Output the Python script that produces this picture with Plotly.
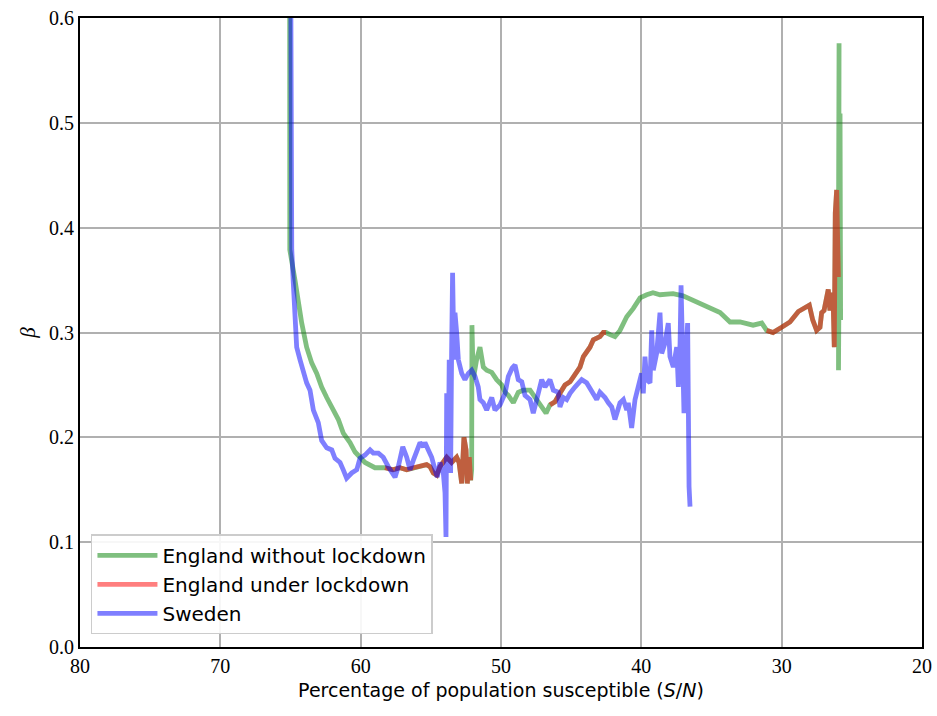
import plotly.graph_objects as go

# England: full series (x = % susceptible, y = beta); lockdown flag per point
eng_x = [65.07, 65.05, 64.68, 64.44, 64.20, 63.85, 63.49, 63.13, 62.78, 62.42, 61.95, 61.59,
         61.24, 60.76, 60.40, 60.05, 59.69, 58.98, 58.27, 57.70, 57.20, 56.72, 56.25, 55.77,
         55.30, 55.06, 54.82, 54.58, 54.35, 54.13, 53.87, 53.52, 53.16, 52.99, 52.80, 52.64,
         52.49, 52.40, 52.26, 52.16, 52.09, 52.07, 51.98, 51.74, 51.50, 51.26, 51.02, 50.66,
         50.31, 49.95, 49.71, 49.48, 49.12, 48.77, 48.41, 47.93, 47.58, 47.34, 47.10, 46.79,
         46.51, 46.15, 45.80, 45.44, 45.08, 44.73, 44.37, 44.13, 43.90, 43.66, 43.42, 43.18,
         42.95, 42.71, 42.52, 42.23, 41.88, 41.52, 41.04, 40.57, 40.09, 39.62, 39.17, 38.67,
         38.19, 37.74, 37.03, 36.32, 35.82, 35.11, 34.39, 33.68, 32.97, 32.04, 31.42, 31.07,
         30.62, 30.00, 29.41, 28.81, 28.33, 28.03, 27.79, 27.51, 27.27, 27.15, 26.98, 26.79,
         26.68, 26.56, 26.44, 26.32, 26.25, 26.18, 26.08, 25.96, 25.91, 25.95, 25.84, 25.80]
eng_y = [0.85, 0.379, 0.350, 0.328, 0.309, 0.286, 0.271, 0.261, 0.248, 0.238, 0.226, 0.217,
         0.204, 0.195, 0.186, 0.181, 0.176, 0.171, 0.171, 0.169, 0.171, 0.169, 0.171, 0.172,
         0.174, 0.172, 0.166, 0.164, 0.172, 0.176, 0.181, 0.176, 0.181, 0.176, 0.156, 0.200,
         0.188, 0.156, 0.181, 0.159, 0.169, 0.307, 0.255, 0.274, 0.286, 0.267, 0.264, 0.262,
         0.255, 0.250, 0.243, 0.240, 0.233, 0.243, 0.245, 0.245, 0.238, 0.233, 0.229, 0.223,
         0.231, 0.234, 0.242, 0.250, 0.253, 0.259, 0.267, 0.277, 0.281, 0.286, 0.293, 0.295,
         0.296, 0.300, 0.300, 0.298, 0.296, 0.302, 0.315, 0.323, 0.333, 0.336, 0.338, 0.336,
         0.336, 0.337, 0.335, 0.331, 0.328, 0.324, 0.319, 0.310, 0.310, 0.307, 0.309, 0.302,
         0.300, 0.305, 0.310, 0.320, 0.324, 0.326, 0.312, 0.302, 0.305, 0.319, 0.321, 0.331,
         0.341, 0.321, 0.338, 0.324, 0.286, 0.414, 0.436, 0.353, 0.576, 0.264, 0.509, 0.312]
eng_lockdown = [0] * 18 + [1] * 22 + [0] * 20 + [1] * 15 + [0] * 20 + [1] * 21 + [0] * 4

# Sweden
swe_x = [65.04, 65.00, 64.91, 64.80, 64.68, 64.56, 64.32, 64.09, 63.85, 63.61, 63.37, 63.02,
         62.78, 62.42, 62.06, 61.83, 61.47, 61.24, 61.00, 60.64, 60.28, 60.05, 59.69, 59.33,
         59.10, 58.74, 58.39, 58.03, 57.79, 57.55, 57.32, 57.00, 56.72, 56.48, 56.25, 56.01,
         55.77, 55.54, 55.42, 55.18, 54.94, 54.70, 54.54, 54.35, 54.11, 53.99, 53.92, 53.87,
         53.76, 53.69, 53.59, 53.52, 53.45, 53.35, 53.28, 53.16, 53.04, 52.80, 52.57, 52.33,
         52.09, 51.85, 51.62, 51.50, 51.26, 51.02, 50.66, 50.43, 50.07, 49.71, 49.48, 49.21,
         49.00, 48.77, 48.52, 48.29, 47.93, 47.70, 47.46, 47.10, 46.86, 46.51, 46.27, 45.92,
         45.80, 45.56, 45.32, 45.08, 44.73, 44.25, 43.90, 43.54, 43.18, 42.95, 42.59, 42.35,
         42.11, 41.88, 41.64, 41.52, 41.28, 41.04, 40.93, 40.69, 40.45, 40.33, 40.09, 39.98,
         39.86, 39.74, 39.62, 39.38, 39.26, 39.15, 38.91, 38.67, 38.55, 38.31, 38.08, 37.96,
         37.72, 37.48, 37.36, 37.24, 37.17, 37.05, 36.96, 36.82, 36.70, 36.60, 36.53]
swe_y = [0.85, 0.474, 0.379, 0.347, 0.315, 0.286, 0.274, 0.261, 0.252, 0.245, 0.226, 0.214,
         0.197, 0.190, 0.188, 0.180, 0.176, 0.169, 0.161, 0.166, 0.169, 0.180, 0.183, 0.188,
         0.185, 0.185, 0.181, 0.172, 0.166, 0.162, 0.172, 0.191, 0.181, 0.169, 0.178, 0.188,
         0.195, 0.191, 0.195, 0.188, 0.181, 0.169, 0.162, 0.176, 0.166, 0.147, 0.105, 0.242,
         0.172, 0.274, 0.166, 0.280, 0.357, 0.274, 0.319, 0.300, 0.274, 0.261, 0.255, 0.261,
         0.264, 0.258, 0.248, 0.236, 0.233, 0.226, 0.238, 0.226, 0.231, 0.242, 0.258, 0.266,
         0.269, 0.255, 0.253, 0.240, 0.236, 0.223, 0.236, 0.255, 0.248, 0.255, 0.245, 0.243,
         0.229, 0.238, 0.236, 0.242, 0.248, 0.255, 0.252, 0.243, 0.236, 0.243, 0.238, 0.233,
         0.229, 0.217, 0.229, 0.233, 0.236, 0.226, 0.233, 0.209, 0.236, 0.242, 0.255, 0.261,
         0.242, 0.277, 0.255, 0.252, 0.302, 0.264, 0.280, 0.319, 0.280, 0.290, 0.309, 0.277,
         0.267, 0.286, 0.248, 0.290, 0.345, 0.264, 0.223, 0.277, 0.309, 0.153, 0.134]

x_ticks = [80, 70, 60, 50, 40, 30, 20]
y_ticks = [0.0, 0.1, 0.2, 0.3, 0.4, 0.5, 0.6]

red_y = [y if f else None for y, f in zip(eng_y, eng_lockdown)]

LW = 4.8
fig = go.Figure()
fig.add_trace(go.Scatter(x=eng_x, y=eng_y, mode="lines", name="England without lockdown",
                         line=dict(color="rgba(0,128,0,0.5)", width=LW)))
fig.add_trace(go.Scatter(x=eng_x, y=red_y, mode="lines", name="England under lockdown",
                         connectgaps=False,
                         line=dict(color="rgba(255,0,0,0.5)", width=LW)))
fig.add_trace(go.Scatter(x=swe_x, y=swe_y, mode="lines", name="Sweden",
                         line=dict(color="rgba(0,0,255,0.5)", width=LW)))

axis_common = dict(showgrid=True, gridcolor="#b0b0b0", gridwidth=1.5,
                   showline=True, linecolor="black", linewidth=1.8, mirror=True,
                   ticks="", zeroline=False, automargin=False,
                   tickfont=dict(family="Liberation Serif, DejaVu Serif, serif", size=20, color="black"))

fig.update_layout(
    width=937, height=716,
    margin=dict(l=80, r=15, t=18, b=69),
    paper_bgcolor="white", plot_bgcolor="white",
    xaxis=dict(range=[80, 20], tickvals=x_ticks, ticktext=[str(v) for v in x_ticks],
               title=dict(text="Percentage of population susceptible (<i>S</i>/<i>N</i>)",
                          font=dict(family="DejaVu Sans, sans-serif", size=19, color="black"),
                          standoff=8),
               **axis_common),
    yaxis=dict(range=[0, 0.6], tickvals=y_ticks, ticktext=[f"{v:.1f}" for v in y_ticks],
               title=dict(text="<i>β</i>",
                          font=dict(family="Liberation Serif, DejaVu Serif, serif", size=21, color="black"),
                          standoff=8),
               **axis_common),
    legend=dict(x=0.013, y=0.02, xanchor="left", yanchor="bottom",
                bgcolor="rgba(255,255,255,0.9)", bordercolor="#cccccc", borderwidth=1.5,
                font=dict(family="DejaVu Sans, sans-serif", size=20, color="black"),
                itemwidth=60, tracegroupgap=6),
    showlegend=True,
)

fig.write_html("out.html", config={"displayModeBar": False},
               post_script="document.body.style.margin='0';document.body.style.overflow='hidden';")
